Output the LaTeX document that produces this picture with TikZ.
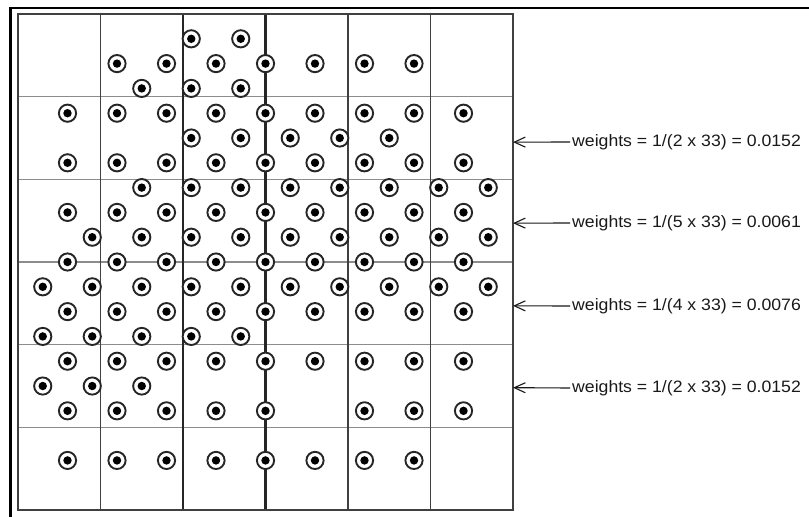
\documentclass[tikz,border=0pt]{standalone}
\usepackage{fontspec}
\setmainfont{Liberation Sans}
\newfontfamily\pesofont[FakeStretch=1.07]{Liberation Sans}
\usetikzlibrary{arrows.meta}

\tikzset{
  anillo/.style={draw=black!85, line width=1.9pt, fill=white},
  nucleo/.style={fill=black},
  flecha/.style={{Straight Barb[length=11pt,width=10pt]}-, line width=1.1pt, black!90},
  peso/.style={anchor=west, inner sep=2pt, text=black!90, font=\pesofont\fontsize{16.5}{18}\selectfont},
}

\begin{document}
\begin{tikzpicture}[x=1pt, y=-1pt]
  \useasboundingbox (0,0) rectangle (809,517);

  % Marco exterior (solo arriba e izquierda)
  \draw[line width=2.8pt] (809,8) -- (10.3,8) -- (10.3,517);

  \begin{scope}[shift={(18,14)}, x=82.5pt, y=-82.67pt]
    % Lineas horizontales (claras)
    \foreach \f in {1,...,5}
      \draw[black!45, line width=1.2pt] (0,\f) -- (6,\f);
    % Lineas verticales
    \foreach \c in {1,4,5}
      \draw[black!75, line width=1.8pt] (\c,0) -- (\c,6);
    \foreach \c in {2,3}
      \draw[black!85, line width=2.2pt] (\c,0) -- (\c,6);
    % Borde de la malla
    \draw[black!75, line width=2.2pt] (0,0) rectangle (6,6);

    % Puntos: fila j, columnas i (paso 0.3)
    \foreach \j/\lista in {1/{7,9}, 2/{4,6,...,16}, 3/{5,7,9},
        4/{2,4,...,18}, 5/{7,9,...,15}, 6/{2,4,...,18},
        7/{5,7,...,19}, 8/{2,4,...,18}, 9/{3,5,...,19},
        10/{2,4,...,18}, 11/{1,3,...,19}, 12/{2,4,...,18},
        13/{1,3,...,9}, 14/{2,4,...,18}, 15/{1,3,5},
        16/{2,4,6,8,10,14,16,18}, 18/{2,4,...,16}}
      \foreach \i in \lista {
        \draw[anillo] (0.3*\i,0.3*\j) circle[radius=8.6pt];
        \fill[nucleo] (0.3*\i,0.3*\j) circle[radius=4.2pt];
      }

    % Puntos del borde derecho para las flechas
    \coordinate (b1) at (6,1.55);
    \coordinate (b2) at (6,2.53);
    \coordinate (b3) at (6,3.53);
    \coordinate (b4) at (6,4.52);
  \end{scope}

  % Etiquetas de pesos
  \node[peso] (w1) at (570,142) {weights = 1/(2 x 33) = 0.0152};
  \node[peso] (w2) at (570,223) {weights = 1/(5 x 33) = 0.0061};
  \node[peso] (w3) at (570,306) {weights = 1/(4 x 33) = 0.0076};
  \node[peso] (w4) at (570,388) {weights = 1/(2 x 33) = 0.0152};

  \draw[flecha] (b1) -- (w1.west);
  \draw[flecha] (b2) -- (w2.west);
  \draw[flecha] (b3) -- (w3.west);
  \draw[flecha] (b4) -- (w4.west);
\end{tikzpicture}
\end{document}
